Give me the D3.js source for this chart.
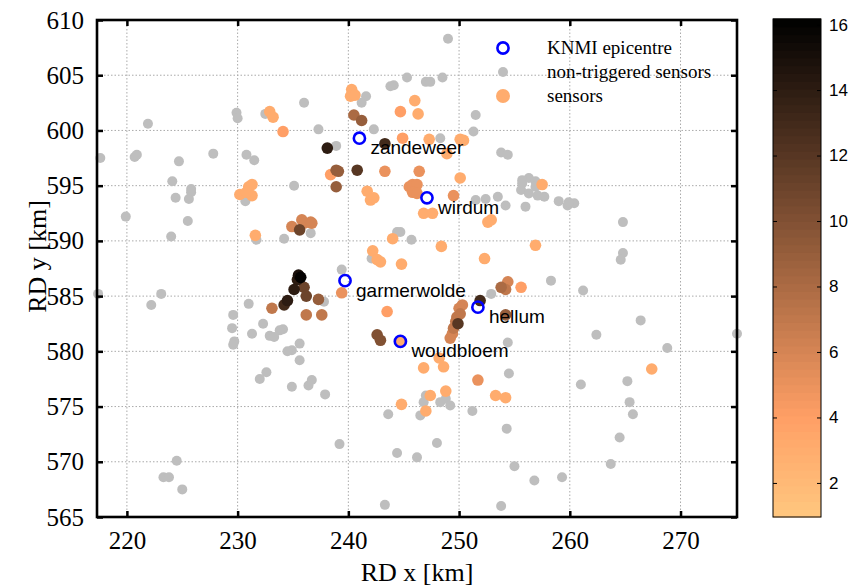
<!DOCTYPE html>
<html lang="en">
<head>
<meta charset="UTF-8">
<title>sensors map</title>
<script src="https://cdn.jsdelivr.net/npm/d3@7"></script>
<style>
  body { margin: 0; background: #fff; }
</style>
</head>
<body>
<div id="container"></div>
<script>
    const width = 861;
    const height = 588;
    const margin = { top: 20, left: 97, right: 124, bottom: 71 };

    const xTicks = [220, 230, 240, 250, 260, 270];
    const yTicks = [565, 570, 575, 580, 585, 590, 595, 600, 605, 610];
    const cbTicks = [2, 4, 6, 8, 10, 12, 14, 16];

    // non-triggered sensors [RD x, RD y] in km
    const nonTriggered = [
        [236.0, 602.5], [229.9, 601.6], [230.0, 601.1], [232.5, 601.5], [237.3, 600.1], [221.9, 600.6],
        [217.6, 597.5], [220.7, 597.6], [220.9, 597.8], [224.7, 597.2], [227.8, 597.9], [230.8, 597.8],
        [231.5, 597.3], [224.1, 595.4], [225.8, 594.7], [235.1, 595.0], [249.0, 608.3], [245.3, 604.8],
        [244.1, 604.1], [243.8, 604.0], [247.0, 604.4], [247.4, 604.4], [248.5, 604.8], [241.6, 603.1],
        [241.2, 602.5], [251.5, 601.4], [251.3, 599.9], [242.3, 600.1], [238.9, 598.6], [248.3, 599.3],
        [253.8, 598.0], [254.4, 597.8], [256.3, 595.7], [255.7, 595.5], [256.9, 595.4],
        [224.4, 593.9], [225.8, 594.4], [225.6, 593.8], [219.9, 592.2], [225.5, 591.8], [224.0, 590.4],
        [217.4, 585.2], [223.1, 585.2], [222.2, 584.2], [231.0, 584.3], [229.6, 583.3], [229.5, 582.1],
        [232.3, 582.5], [231.3, 581.6], [229.7, 580.9], [234.1, 582.0], [233.8, 581.9], [232.9, 581.4],
        [233.3, 581.3], [235.6, 580.7], [234.9, 580.1], [234.5, 580.0], [234.2, 590.2], [231.7, 590.1],
        [236.6, 590.7], [230.7, 593.6],
        [251.5, 593.7], [252.4, 593.8], [253.5, 594.0], [254.2, 593.2], [256.0, 593.1], [255.6, 594.6],
        [256.3, 594.3], [256.9, 594.9], [255.7, 595.2], [244.4, 590.8], [244.7, 590.8], [245.7, 590.1],
        [242.1, 588.4], [239.4, 587.4], [252.9, 585.2], [237.8, 584.5], [254.4, 580.8],
        [257.7, 594.0], [257.1, 594.1], [259.0, 593.6], [259.8, 593.2], [260.4, 593.4], [259.9, 593.5],
        [264.8, 591.7], [258.3, 586.4], [264.8, 588.9], [264.6, 588.3], [261.2, 585.5], [266.4, 582.8],
        [262.4, 581.5], [268.8, 580.3], [275.1, 581.6],
        [229.6, 580.6], [235.6, 579.2], [232.0, 577.5], [232.6, 578.1], [234.9, 576.8], [236.4, 576.9],
        [236.7, 577.4], [237.9, 576.1], [224.5, 570.1], [223.3, 568.6], [223.8, 568.6], [225.0, 567.5],
        [243.6, 574.3], [239.2, 571.6], [244.4, 570.8], [246.2, 570.4], [248.0, 571.7], [243.3, 566.1],
        [253.8, 566.0], [254.5, 578.0], [251.2, 574.6], [254.3, 573.0], [255.0, 569.6], [256.8, 568.3],
        [247.0, 576.0], [246.8, 575.4], [248.3, 575.4], [248.8, 575.7], [249.2, 575.1], [246.5, 574.2],
        [261.0, 577.0], [265.2, 577.3], [265.4, 575.4], [265.7, 574.3], [264.5, 572.2], [263.7, 569.8],
        [259.3, 568.6]
    ];

    // triggered sensors [RD x, RD y, value]
    const sensors = [
        [232.9, 601.7, 3], [233.2, 601.2, 3], [234.1, 599.9, 4], [238.1, 598.4, 14], [238.4, 596.0, 4],
        [231.0, 594.9, 3], [231.3, 595.1, 3], [230.2, 594.2, 3], [231.3, 594.1, 3], [230.8, 594.4, 3],
        [240.3, 603.7, 3], [240.2, 603.1, 3], [240.6, 603.2, 3], [246.0, 602.7, 3], [244.7, 601.7, 4],
        [246.3, 601.5, 3], [240.5, 601.4, 8], [241.2, 600.9, 9], [243.3, 598.8, 13], [244.9, 599.3, 4],
        [247.3, 599.2, 3], [250.1, 599.2, 3], [250.4, 599.1, 3], [248.9, 597.9, 3], [238.9, 596.4, 9],
        [239.1, 596.3, 9], [240.8, 596.4, 12], [243.3, 596.3, 5], [246.4, 596.3, 5], [250.1, 595.7, 3],
        [238.9, 594.9, 9],
        [245.5, 594.9, 5], [245.8, 595.1, 5], [246.2, 595.1, 5], [245.8, 594.4, 5], [246.2, 594.3, 5],
        [241.7, 594.5, 3], [242.0, 593.7, 3], [242.3, 593.9, 3], [257.5, 595.1, 3],
        [231.6, 590.5, 3], [234.9, 591.3, 6], [235.8, 591.9, 6], [236.0, 591.6, 6], [236.6, 591.7, 6],
        [236.7, 591.6, 6], [235.6, 591.0, 11],
        [235.7, 586.7, 16], [235.5, 586.9, 15], [235.4, 586.5, 14], [236.0, 585.8, 11], [235.1, 585.6, 14],
        [236.2, 585.0, 11], [234.5, 584.6, 14], [234.2, 584.2, 13], [233.1, 583.9, 7], [237.3, 584.7, 9],
        [236.2, 583.3, 7], [237.6, 583.3, 7],
        [249.5, 594.1, 5], [246.8, 592.5, 3], [247.6, 592.5, 3], [252.6, 591.7, 3], [252.9, 591.9, 3],
        [244.0, 590.2, 3], [248.4, 589.5, 3], [256.9, 589.6, 3], [242.2, 589.1, 3], [242.6, 588.3, 3],
        [242.9, 588.1, 3], [244.8, 587.9, 3], [252.3, 588.4, 3], [239.4, 585.3, 5], [243.5, 583.6, 4],
        [253.8, 585.8, 8], [254.4, 586.3, 6], [254.2, 585.6, 7], [255.6, 585.8, 4], [251.9, 584.6, 13],
        [250.3, 584.2, 6], [250.0, 583.9, 6], [250.1, 583.4, 7], [249.8, 583.1, 7], [249.7, 582.7, 7],
        [249.9, 582.5, 12], [249.5, 582.1, 7], [249.4, 581.6, 6], [249.2, 581.2, 6],
        [254.2, 583.3, 9], [242.6, 581.5, 10], [242.9, 581.0, 10], [244.7, 580.9, 3],
        [246.8, 578.5, 3], [248.2, 579.4, 3], [248.6, 578.6, 3], [244.8, 575.2, 3], [247.4, 576.0, 3],
        [248.8, 576.4, 3], [247.0, 574.6, 3], [253.3, 576.0, 3], [254.2, 575.8, 3], [251.7, 577.4, 5],
        [267.4, 578.4, 3]
    ];

    const epiNames = ['zandeweer', 'wirdum', 'garmerwolde', 'hellum', 'woudbloem'];
    const epiX = [241.0, 247.1, 239.7, 251.7, 244.7];
    const epiY = [599.3, 593.9, 586.4, 584.0, 580.9];

    const legendLabels = ['KNMI epicentre', 'non-triggered sensors', 'sensors'];

    const colorLimits = [0.96, 16.17];

    // flipped MATLAB copper
    function copper(t) {
        const r = Math.min(1, 1.25 * t), g = 0.7812 * t, b = 0.4975 * t;
        return d3.rgb(r * 255, g * 255, b * 255).formatHex();
    }
    const color = d3.scaleLinear().domain(colorLimits).range([1, 0]);
    const fill = v => copper(color(v));

    const plotW = 640, plotH = 497;
    const x = d3.scaleLinear().domain([217.3, 275.1]).range([margin.left, margin.left + plotW]);
    const y = d3.scaleLinear().domain([565, 610]).range([margin.top + plotH, margin.top]);

    const svg = d3.select('#container').append('svg')
        .attr('width', width)
        .attr('height', height)
        .style('background', '#fff');

    const serif = '"Liberation Serif", "Times New Roman", serif';
    const sans = '"Liberation Sans", Arial, sans-serif';

    // grid
    const grid = svg.append('g')
        .attr('stroke', '#aaa')
        .attr('stroke-width', 1)
        .attr('stroke-dasharray', '1.5,2');
    grid.selectAll('.gx').data(xTicks).join('line')
        .attr('x1', d => x(d)).attr('x2', d => x(d))
        .attr('y1', y(565)).attr('y2', y(610));
    grid.selectAll('.gy').data(yTicks.slice(1, -1)).join('line')
        .attr('y1', d => y(d)).attr('y2', d => y(d))
        .attr('x1', x.range()[0]).attr('x2', x.range()[1]);

    const plot = svg.append('g');

    plot.selectAll('circle.nt').data(nonTriggered).join('circle')
        .attr('class', 'nt')
        .attr('cx', d => x(d[0])).attr('cy', d => y(d[1]))
        .attr('r', 5)
        .attr('fill', '#bebebe');

    plot.selectAll('circle.s').data(sensors.slice().sort((a, b) => a[2] - b[2])).join('circle')
        .attr('class', 's')
        .attr('cx', d => x(d[0])).attr('cy', d => y(d[1]))
        .attr('r', 5.8)
        .attr('fill', d => fill(d[2]));

    const epi = epiNames.map((n, i) => ({ name: n, x: epiX[i], y: epiY[i] }));
    plot.selectAll('circle.e').data(epi).join('circle')
        .attr('class', 'e')
        .attr('cx', d => x(d.x)).attr('cy', d => y(d.y))
        .attr('r', 5.6)
        .attr('fill', 'none')
        .attr('stroke', '#0000ff')
        .attr('stroke-width', 2.6);
    plot.selectAll('text.e').data(epi).join('text')
        .attr('class', 'e')
        .attr('x', d => x(d.x) + 11)
        .attr('y', d => y(d.y) + 16)
        .attr('font-family', sans)
        .attr('font-size', 19)
        .text(d => d.name);

    // axes
    const axisB = svg.append('g').attr('transform', `translate(0,${y(565)})`)
        .call(d3.axisBottom(x).tickValues(xTicks).tickSize(-6).tickPadding(14).tickFormat(d3.format('d')));
    const axisT = svg.append('g').attr('transform', `translate(0,${y(610)})`)
        .call(d3.axisTop(x).tickValues(xTicks).tickSize(-6).tickFormat(''));
    const axisL = svg.append('g').attr('transform', `translate(${x.range()[0]},0)`)
        .call(d3.axisLeft(y).tickValues(yTicks).tickSize(-6).tickPadding(13).tickFormat(d3.format('d')));
    const axisR = svg.append('g').attr('transform', `translate(${x.range()[1]},0)`)
        .call(d3.axisRight(y).tickValues(yTicks).tickSize(-6).tickFormat(''));
    [axisB, axisT, axisL, axisR].forEach(a => {
        a.select('.domain').remove();
        a.selectAll('.tick line').attr('stroke', '#000').attr('stroke-width', 2.5);
        a.selectAll('.tick text').attr('font-family', serif).attr('font-size', 25).attr('fill', '#000');
    });

    svg.append('rect')
        .attr('x', x.range()[0]).attr('y', y(610))
        .attr('width', plotW).attr('height', plotH)
        .attr('fill', 'none').attr('stroke', '#000').attr('stroke-width', 2.6);

    svg.append('text')
        .attr('x', margin.left + plotW / 2).attr('y', 581)
        .attr('text-anchor', 'middle')
        .attr('font-family', serif).attr('font-size', 26)
        .text('RD x [km]');
    svg.append('text')
        .attr('transform', `translate(46,${margin.top + plotH / 2 - 12}) rotate(-90)`)
        .attr('text-anchor', 'middle')
        .attr('font-family', serif).attr('font-size', 26)
        .text('RD y [km]');

    // legend
    const lg = svg.append('g').attr('transform', 'translate(503,48)');
    lg.append('circle').attr('cx', 0).attr('cy', 0).attr('r', 5.6)
        .attr('fill', 'none').attr('stroke', '#0000ff').attr('stroke-width', 2.6);
    lg.append('circle').attr('cx', 0).attr('cy', 24).attr('r', 5).attr('fill', '#bebebe');
    lg.append('circle').attr('cx', 0).attr('cy', 48).attr('r', 7).attr('fill', fill(3));
    lg.selectAll('text').data(legendLabels).join('text')
        .attr('x', 44).attr('y', (d, i) => i * 24 + 6)
        .attr('font-family', serif).attr('font-size', 19)
        .text(d => d);

    // colorbar
    const cbX = 773, cbW = 48;
    const cy = d3.scaleLinear().domain(colorLimits).range([517, 19]);
    const nBands = 64;
    const bands = d3.range(nBands).map(i => colorLimits[0] + (colorLimits[1] - colorLimits[0]) * i / nBands);
    const bandH = (colorLimits[1] - colorLimits[0]) / nBands;
    svg.append('g').selectAll('rect').data(bands).join('rect')
        .attr('x', cbX).attr('width', cbW)
        .attr('y', d => cy(d + bandH) - 0.5)
        .attr('height', d => cy(d) - cy(d + bandH) + 1)
        .attr('fill', d => fill(d + bandH / 2));
    svg.append('rect')
        .attr('x', cbX).attr('y', cy(colorLimits[1]))
        .attr('width', cbW).attr('height', cy(colorLimits[0]) - cy(colorLimits[1]))
        .attr('fill', 'none').attr('stroke', '#000').attr('stroke-width', 1);
    const cbAxis = svg.append('g').attr('transform', `translate(${cbX + cbW},0)`)
        .call(d3.axisRight(cy).tickValues(cbTicks).tickSize(-4).tickPadding(8));
    cbAxis.select('.domain').remove();
    cbAxis.selectAll('.tick text').attr('font-family', sans).attr('font-size', 17).attr('fill', '#000');
    svg.append('g').attr('transform', `translate(${cbX},0)`)
        .call(d3.axisLeft(cy).tickValues(cbTicks).tickSize(-4).tickFormat(''))
        .select('.domain').remove();
</script>
</body>
</html>
